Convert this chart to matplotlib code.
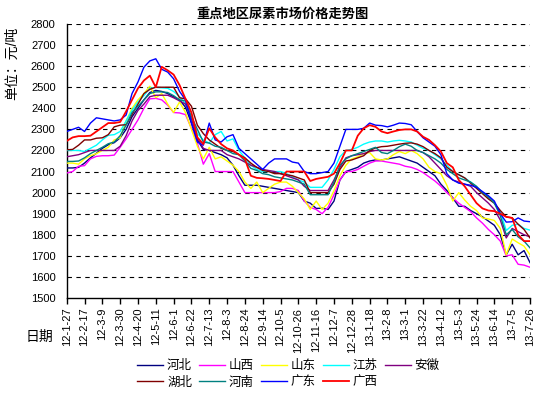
import matplotlib
matplotlib.use("Agg")
import matplotlib.pyplot as plt

plt.rcParams['font.family'] = ['Liberation Sans', 'Noto Sans CJK SC']

# weekly dates, one label every 3 weeks
tick_labels = ['12-1-27', '12-2-17', '12-3-9', '12-3-30', '12-4-20', '12-5-11', '12-6-1',
               '12-6-22', '12-7-13', '12-8-3', '12-8-24', '12-9-14', '12-10-5', '12-10-26',
               '12-11-16', '12-12-7', '12-12-28', '13-1-18', '13-2-8', '13-3-1', '13-3-22',
               '13-4-12', '13-5-3', '13-5-24', '13-6-14', '13-7-5', '13-7-26']

hebei = [2117, 2117, 2120, 2140, 2165, 2187, 2210, 2227, 2237, 2260,
         2300, 2360, 2400, 2440, 2475, 2485, 2480, 2470, 2455, 2440,
         2405, 2330, 2250, 2205, 2200, 2190, 2180, 2165, 2130, 2080,
         2035, 2035, 2035, 2030, 2025, 2020, 2015, 2010, 2005, 2000,
         1960, 1950, 1925, 1926, 1920, 1960, 2060, 2100, 2110, 2120,
         2140, 2150, 2155, 2155, 2160, 2165, 2170, 2160, 2150, 2140,
         2120, 2100, 2080, 2040, 2010, 1975, 1935, 1935, 1915, 1900,
         1885, 1865, 1845, 1800, 1705, 1755, 1705, 1725, 1668]

shanxi = [2093, 2100, 2125, 2128, 2160, 2172, 2175, 2175, 2178, 2215,
          2255, 2300, 2345, 2400, 2445, 2447, 2440, 2415, 2380, 2378,
          2370, 2305, 2235, 2135, 2185, 2100, 2100, 2100, 2100, 2050,
          2000, 2000, 2000, 2000, 2000, 2000, 2005, 2020, 2020, 2010,
          1960, 1930, 1920, 1900, 1930, 1990, 2060, 2100, 2100, 2110,
          2125, 2140, 2150, 2150, 2145, 2140, 2135, 2125, 2120, 2110,
          2095, 2075, 2055, 2030, 2000, 1975, 1950, 1930, 1910, 1880,
          1855, 1825, 1800, 1770, 1700, 1705, 1660, 1656, 1646]

shandong = [2140, 2140, 2135, 2160, 2175, 2185, 2200, 2215, 2250, 2260,
            2340, 2400, 2440, 2470, 2505, 2450, 2470, 2420, 2380, 2430,
            2380, 2300, 2220, 2160, 2215, 2160, 2170, 2150, 2130, 2100,
            2050, 2020, 2050, 2000, 2020, 2040, 2050, 2050, 2030, 2000,
            1970, 1920, 1960, 1920, 1950, 2010, 2080, 2130, 2160, 2170,
            2185, 2190, 2160, 2155, 2160, 2180, 2195, 2185, 2200, 2185,
            2160, 2120, 2100, 2090, 2035, 1960, 2000, 1965, 1935, 1915,
            1880, 1875, 1868, 1830, 1705, 1780, 1762, 1746, 1705]

jiangsu = [2200, 2200, 2200, 2195, 2210, 2225, 2250, 2272, 2275, 2290,
           2340, 2390, 2430, 2460, 2495, 2500, 2497, 2495, 2480, 2455,
           2420, 2350, 2280, 2250, 2235, 2275, 2290, 2245, 2255, 2200,
           2165, 2130, 2110, 2100, 2100, 2100, 2100, 2090, 2075, 2060,
           2050, 2025, 2025, 2025, 2060, 2110, 2170, 2200, 2205, 2215,
           2230, 2240, 2245, 2245, 2240, 2245, 2248, 2245, 2240, 2225,
           2210, 2200, 2180, 2160, 2130, 2100, 2085, 2070, 2050, 2025,
           2000, 1975, 1950, 1910, 1820, 1845, 1850, 1830, 1822]

anhui = [2170, 2175, 2180, 2190, 2200, 2200, 2200, 2200, 2200, 2220,
         2270, 2340, 2390, 2420, 2455, 2462, 2462, 2462, 2450, 2435,
         2420, 2350, 2260, 2210, 2200, 2200, 2200, 2180, 2170, 2160,
         2145, 2130, 2120, 2110, 2105, 2100, 2090, 2080, 2070, 2060,
         2030, 2010, 2010, 2010, 2010, 2060, 2120, 2165, 2175, 2180,
         2185, 2195, 2200, 2200, 2200, 2200, 2200, 2200, 2200, 2200,
         2190, 2170, 2140, 2110, 2080, 2060, 2050, 2040, 2030, 2000,
         1975, 1950, 1920, 1870, 1785, 1830, 1815, 1800, 1790]

hubei = [2203, 2205, 2225, 2250, 2250, 2258, 2260, 2275, 2312, 2320,
         2322, 2370, 2420, 2470, 2490, 2500, 2500, 2500, 2500, 2450,
         2445, 2410, 2320, 2280, 2250, 2230, 2210, 2200, 2195, 2180,
         2165, 2140, 2120, 2105, 2100, 2090, 2090, 2085, 2080, 2070,
         2060, 2000, 2000, 2000, 2000, 2040, 2110, 2150, 2155, 2165,
         2175, 2200, 2212, 2218, 2220, 2225, 2230, 2234, 2236, 2230,
         2218, 2200, 2185, 2165, 2120, 2100, 2085, 2070, 2045, 2020,
         1995, 1970, 1950, 1915, 1885, 1880, 1850, 1825, 1785]

henan = [2148, 2148, 2150, 2165, 2185, 2200, 2215, 2232, 2240, 2270,
         2320, 2380, 2410, 2440, 2470, 2478, 2478, 2475, 2460, 2440,
         2435, 2360, 2300, 2240, 2235, 2220, 2215, 2200, 2185, 2180,
         2150, 2115, 2105, 2090, 2085, 2075, 2070, 2065, 2060, 2050,
         2040, 1990, 1990, 1990, 1990, 2050, 2130, 2160, 2175, 2185,
         2195, 2205, 2215, 2190, 2185, 2200, 2218, 2230, 2220, 2200,
         2190, 2175, 2160, 2140, 2110, 2090, 2070, 2060, 2050, 2030,
         2000, 1980, 1950, 1890, 1800, 1825, 1790, 1770, 1738]

guangdong = [2290, 2300, 2310, 2290, 2330, 2355, 2350, 2345, 2340, 2345,
             2368, 2470, 2525, 2595, 2625, 2635, 2585, 2572, 2540, 2480,
             2440, 2330, 2240, 2225, 2330, 2250, 2240, 2265, 2275, 2210,
             2185, 2160, 2135, 2110, 2140, 2160, 2160, 2160, 2145, 2140,
             2100, 2090, 2090, 2095, 2100, 2140, 2220, 2300, 2300, 2300,
             2305, 2330, 2320, 2318, 2312, 2320, 2330, 2328, 2322, 2290,
             2260, 2240, 2220, 2180, 2090, 2060, 2045, 2040, 2035, 2025,
             2005, 1985, 1960, 1900, 1860, 1862, 1880, 1865, 1862]

guangxi = [2245, 2262, 2268, 2268, 2270, 2290, 2310, 2330, 2330, 2335,
           2385, 2440, 2495, 2532, 2555, 2500, 2597, 2580, 2560, 2510,
           2445, 2380, 2262, 2230, 2305, 2262, 2230, 2210, 2200, 2180,
           2160, 2080, 2070, 2068, 2065, 2060, 2055, 2100, 2100, 2100,
           2100, 2055, 2065, 2070, 2075, 2090, 2140, 2200, 2200, 2270,
           2305, 2320, 2312, 2290, 2282, 2290, 2297, 2300, 2300, 2290,
           2265, 2250, 2225, 2195, 2140, 2120, 2060, 2030, 1990, 1950,
           1925, 1915, 1912, 1900, 1885, 1880, 1800, 1770, 1770]

names = ['河北', '山西', '山东', '江苏', '安徽', '湖北', '河南', '广东', '广西']
series = [hebei, shanxi, shandong, jiangsu, anhui, hubei, henan, guangdong, guangxi]
colors = ['#000080', '#FF00FF', '#FFFF00', '#00FFFF', '#800080',
          '#800000', '#008080', '#0000FF', '#FF0000']

fig = plt.figure(figsize=(5.59, 3.94), dpi=100)
ax = fig.add_axes([66.7 / 559, 96 / 394, 463.3 / 559, 274 / 394])

weeks = list(range(len(hebei)))
lines = {}
for name, vals, col in zip(names, series, colors):
    lw = 1.3 if name == '广西' else 1.0
    ln, = ax.plot(weeks, vals, color=col, lw=lw, label=name, zorder=3)
    lines[name] = ln

ax.set_xlim(0, len(weeks) - 1)
ax.set_ylim(1500, 2800)
ax.set_yticks(range(1500, 2801, 100))
ax.set_xticks(range(0, len(weeks), 3))
ax.set_xticklabels(tick_labels, rotation=90, fontsize=8)
ax.tick_params(axis='y', length=0, pad=8, labelsize=8)
ax.tick_params(axis='x', direction='out', length=4, width=1, pad=3)

# dashed horizontal grid, no frame on top/right
for v in range(1600, 2801, 100):
    ax.axhline(v, color='black', lw=0.8, dashes=(4, 4), zorder=1)
ax.spines['top'].set_visible(False)
ax.spines['right'].set_visible(False)
ax.spines['left'].set_linewidth(1)
ax.spines['bottom'].set_linewidth(1)

fig.text(0.505, 1 - 14 / 394, '重点地区尿素市场价格走势图', ha='center', va='center',
         fontsize=9.5, fontweight='bold')
fig.text(12 / 559, 1 - 63 / 394, '单位：元/吨', rotation=90, ha='center', va='center', fontsize=10)
fig.text(39 / 559, 1 - 337 / 394, '日期', ha='center', va='center', fontsize=10)

# legend: 2 rows, 5 columns, filled row by row
order = ['河北', '湖北', '山西', '河南', '山东', '广东', '江苏', '广西', '安徽']
leg = fig.legend([lines[n] for n in order], order, ncol=5, loc='upper left',
                 bbox_to_anchor=(137 / 559, 1 - 360 / 394), frameon=False,
                 fontsize=9, handlelength=2.1, handletextpad=0.3, columnspacing=0.55,
                 labelspacing=0.35, borderpad=0, borderaxespad=0)

fig.savefig('out.png', dpi=100)
